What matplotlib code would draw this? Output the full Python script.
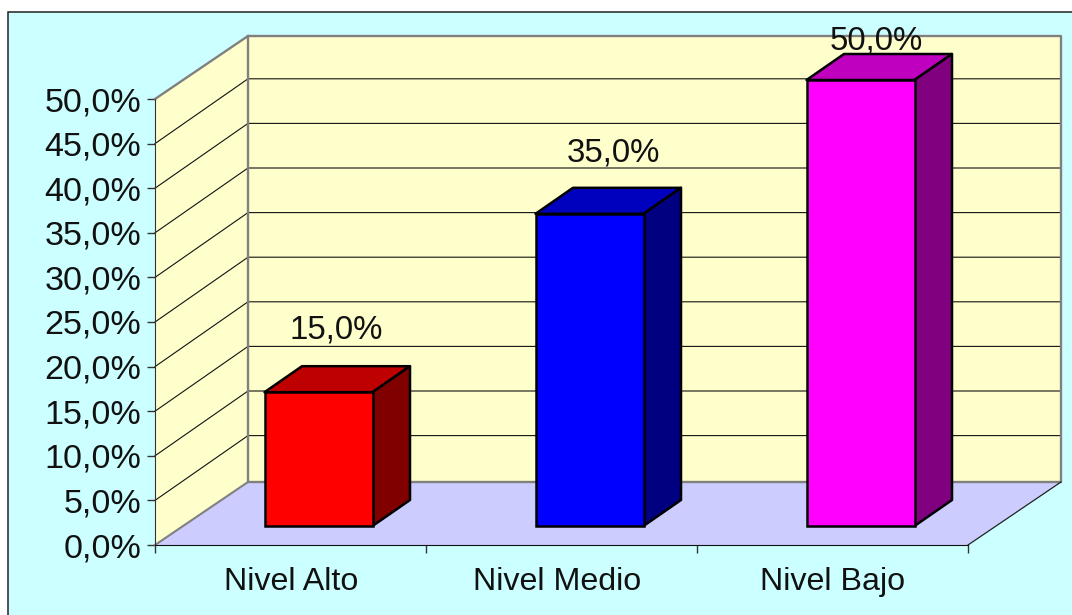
import matplotlib
matplotlib.use("Agg")
import matplotlib.pyplot as plt
from matplotlib.patches import Polygon, Rectangle

plt.rcParams["font.family"] = ["Liberation Sans", "DejaVu Sans"]

categories = ["Nivel Alto", "Nivel Medio", "Nivel Bajo"]
values = [15.0, 35.0, 50.0]
y_ticks = [0, 5, 10, 15, 20, 25, 30, 35, 40, 45, 50]

front_colors = ["#FF0000", "#0000FF", "#FF00FF"]
top_colors = ["#BF0000", "#0000BF", "#BF00BF"]
side_colors = ["#800000", "#000080", "#800080"]

W, H = 1072, 615
PX_X = 271.0  # pixels per category
PX_Y = 8.92  # pixels per percent

fig = plt.figure(figsize=(W / 100, H / 100), dpi=100, facecolor="white")
fig.add_artist(Rectangle((8 / W, -0.05), 1.1, 1.05 - 12 / H, transform=fig.transFigure,
                         facecolor="#CCFFFF", edgecolor="#222222", linewidth=1.1, zorder=-1))

ax = fig.add_axes([155 / W, 1 - 545 / H, 813 / W, 446 / H])
ax.patch.set_visible(False)
ax.set_xlim(-0.5, 2.5)
ax.set_ylim(0, 50)

# depth of the walls and of the bars, in data units
wall_dx = 93 / PX_X
wall_dy = 63 / PX_Y
grid_dy = 64.8 / PX_Y
bar_dx = 37.5 / PX_X
bar_dy = 26 / PX_Y
bar_shift = 28 / PX_X
bar_lift = 19 / PX_Y
bar_w = 108 / PX_X

x0, x1 = -0.5, 2.5
grey = "#808080"

# floor and walls
ax.add_patch(Polygon([(x0, 0), (x1, 0), (x1 + wall_dx, wall_dy), (x0 + wall_dx, wall_dy)],
                     facecolor="#CCCCFF", edgecolor="none", zorder=1, clip_on=False))
ax.add_patch(Polygon([(x0, 0), (x0 + wall_dx, wall_dy), (x0 + wall_dx, 50 + wall_dy), (x0, 50)],
                     facecolor="#FFFFCC", edgecolor="none", zorder=1, clip_on=False))
ax.add_patch(Rectangle((x0 + wall_dx, wall_dy), 3, 50, facecolor="#FFFFCC", edgecolor="none",
                       zorder=1, clip_on=False))

# grid lines along side wall and back wall
for t in y_ticks[1:-1]:
    ax.plot([x0, x0 + wall_dx, x1 + wall_dx], [t, t + grid_dy, t + grid_dy],
            color="#111111", lw=0.8, zorder=2, clip_on=False)

# wall outline
ax.plot([x0, x0 + wall_dx, x1 + wall_dx, x1 + wall_dx, x0 + wall_dx, x0 + wall_dx],
        [50, 50 + wall_dy, 50 + wall_dy, wall_dy, wall_dy, 50 + wall_dy],
        color=grey, lw=1.7, zorder=3, clip_on=False)
ax.plot([x0, x0 + wall_dx], [0, wall_dy], color=grey, lw=1.5, zorder=3, clip_on=False)
ax.plot([x1, x1 + wall_dx], [0, wall_dy], color="#222222", lw=0.9, zorder=3, clip_on=False)

# bars
positions = range(len(values))
lefts = [i + bar_shift - bar_w / 2 for i in positions]
ax.bar(lefts, values, width=bar_w, bottom=bar_lift, align="edge", color=front_colors,
       edgecolor="black", linewidth=1.8, zorder=5, clip_on=False)
for left, v, top_c, side_c in zip(lefts, values, top_colors, side_colors):
    right = left + bar_w
    y_b = bar_lift
    y_t = bar_lift + v
    ax.add_patch(Polygon([(left, y_t), (right, y_t), (right + bar_dx, y_t + bar_dy), (left + bar_dx, y_t + bar_dy)],
                         facecolor=top_c, edgecolor="black", linewidth=1.8, joinstyle="round",
                         zorder=4, clip_on=False))
    ax.add_patch(Polygon([(right, y_b), (right + bar_dx, y_b + bar_dy), (right + bar_dx, y_t + bar_dy), (right, y_t)],
                         facecolor=side_c, edgecolor="black", linewidth=1.8, joinstyle="round",
                         zorder=4, clip_on=False))

# data labels, offsets in pixels
label_dx = [18, 24, 16]
label_dy = [62, 61, 39]
for left, v, dx, dy in zip(lefts, values, label_dx, label_dy):
    ax.text(left + bar_w / 2 + dx / PX_X, bar_lift + v + dy / PX_Y, f"{v:.1f}%".replace(".", ","),
            ha="center", va="center", fontsize=23.8, color="#111111", zorder=6, clip_on=False)

# axes
for s in ["top", "right"]:
    ax.spines[s].set_visible(False)
ax.spines["left"].set_color("#333333")
ax.spines["bottom"].set_color("#111111")
ax.spines["left"].set_zorder(3)
ax.spines["bottom"].set_zorder(3)

ax.set_yticks(y_ticks)
ax.set_yticklabels([f"{t:.1f}%".replace(".", ",") for t in y_ticks], fontsize=24.6, color="#111111")
ax.tick_params(axis="y", length=6, width=1, color="#333333", pad=4)
ax.set_xticks([-0.5, 0.5, 1.5, 2.5])
ax.set_xticklabels([])
# labels do not sit exactly mid-category in the original
label_nudge = [1, -4, 0]
ax.set_xticks([i + n / PX_X for i, n in zip(positions, label_nudge)], minor=True)
ax.set_xticklabels(categories, minor=True, fontsize=23.2, color="#111111")
ax.tick_params(axis="x", which="major", length=6, width=1, color="#333333")
ax.tick_params(axis="x", which="minor", length=0, pad=16)

fig.savefig("out.png", dpi=100, facecolor="white")
